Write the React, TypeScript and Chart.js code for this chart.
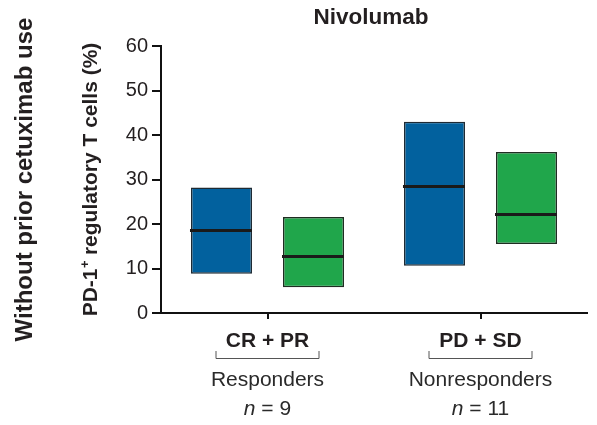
import React, { useEffect, useRef } from 'react';
import { Chart, registerables } from 'chart.js';

Chart.register(...registerables);

// ---- Data ----
const categories = ['CR + PR', 'PD + SD'];
const groupNames = ['Responders', 'Nonresponders'];
const groupN = ['9', '11'];
const yMin = 0;
const yMax = 60;
const yStep = 10;

// blue boxes (first series)
const blueLow = [8.8, 10.6];
const blueHigh = [28.2, 43.0];
const blueMedian = [18.6, 28.5];
// green boxes (second series)
const greenLow = [5.8, 15.5];
const greenHigh = [21.6, 36.2];
const greenMedian = [12.7, 22.2];

const chartTitle = 'Nivolumab';
const yTitleMain = 'PD-1';
const yTitleSup = '+';
const yTitleRest = ' regulatory T cells (%)';
const outerTitle = 'Without prior cetuximab use';

const BLUE = '#02619e';
const GREEN = '#20a64b';
const FONT = '"Liberation Sans", Arial, Helvetica, sans-serif';
const TEXT = '#231f20';

const medians = [blueMedian, greenMedian];

const overlayPlugin = {
  id: 'overlay',
  afterDatasetsDraw(chart: any) {
    const ctx = chart.ctx;
    const y = chart.scales.y;
    ctx.save();
    ctx.strokeStyle = '#1a1a1a';
    ctx.lineWidth = 3;
    medians.forEach((arr, di) => {
      const meta = chart.getDatasetMeta(di);
      meta.data.forEach((bar: any, i: number) => {
        const py = Math.round(y.getPixelForValue(arr[i])) + 0.5;
        ctx.beginPath();
        ctx.moveTo(bar.x - bar.width / 2 - 1, py);
        ctx.lineTo(bar.x + bar.width / 2, py);
        ctx.stroke();
      });
    });
    ctx.restore();
  },
  afterDraw(chart: any) {
    const ctx = chart.ctx;
    const area = chart.chartArea;
    const x = chart.scales.x;
    const cy = (area.top + area.bottom) / 2;
    ctx.save();
    ctx.fillStyle = TEXT;

    // Title
    ctx.font = `bold 22.5px ${FONT}`;
    ctx.textAlign = 'center';
    ctx.textBaseline = 'alphabetic';
    ctx.fillText(chartTitle, (area.left + area.right) / 2 - 3, 24);

    // Y-axis title with superscript
    ctx.save();
    ctx.translate(97, cy);
    ctx.rotate(-Math.PI / 2);
    ctx.textAlign = 'left';
    ctx.font = `bold 21px ${FONT}`;
    const w1 = ctx.measureText(yTitleMain).width;
    const w3 = ctx.measureText(yTitleRest).width;
    ctx.font = `bold 13px ${FONT}`;
    const w2 = ctx.measureText(yTitleSup).width;
    const x0 = -(w1 + w2 + w3) / 2;
    ctx.font = `bold 21px ${FONT}`;
    ctx.fillText(yTitleMain, x0, 0);
    ctx.font = `bold 13px ${FONT}`;
    ctx.fillText(yTitleSup, x0 + w1 + 0.5, -8);
    ctx.font = `bold 21px ${FONT}`;
    ctx.fillText(yTitleRest, x0 + w1 + w2, 0);
    ctx.restore();

    // Outer title
    ctx.save();
    ctx.translate(32, cy);
    ctx.rotate(-Math.PI / 2);
    ctx.textAlign = 'center';
    ctx.font = `bold 24px ${FONT}`;
    ctx.fillText(outerTitle, 0, 0);
    ctx.restore();

    // X category labels
    categories.forEach((cat, i) => {
      const px = x.getPixelForValue(i);
      ctx.textAlign = 'center';
      ctx.fillStyle = TEXT;
      ctx.font = `bold 21px ${FONT}`;
      ctx.fillText(cat, px, 347);
      // bracket
      ctx.strokeStyle = '#555';
      ctx.lineWidth = 1;
      const half = 52;
      ctx.beginPath();
      ctx.moveTo(px - half + 0.5, 351);
      ctx.lineTo(px - half + 0.5, 358.5);
      ctx.lineTo(px + half - 0.5, 358.5);
      ctx.lineTo(px + half - 0.5, 351);
      ctx.stroke();
      ctx.fillStyle = '#2a2a2a';
      ctx.font = `21px ${FONT}`;
      ctx.fillText(groupNames[i], px, 386);
      // n = value, italic n
      ctx.font = `italic 21px ${FONT}`;
      const nW = ctx.measureText('n').width;
      ctx.font = `21px ${FONT}`;
      const rest = ' = ' + groupN[i];
      const rW = ctx.measureText(rest).width;
      const sx = px - (nW + rW) / 2;
      ctx.textAlign = 'left';
      ctx.font = `italic 21px ${FONT}`;
      ctx.fillText('n', sx, 415);
      ctx.font = `21px ${FONT}`;
      ctx.fillText(rest, sx + nW, 415);
    });
    ctx.restore();
  },
};

export default function App() {
  const ref = useRef<HTMLCanvasElement | null>(null);
  useEffect(() => {
    if (!ref.current) return;
    const chart = new Chart(ref.current, {
      type: 'bar',
      data: {
        labels: categories,
        datasets: [
          {
            label: 'Blue',
            data: blueLow.map((lo, i) => [lo, blueHigh[i]]) as any,
            backgroundColor: BLUE,
            borderColor: '#1e2a33',
            borderWidth: 1.5,
            borderSkipped: false,
            categoryPercentage: 0.864,
            barPercentage: 0.663,
          },
          {
            label: 'Green',
            data: greenLow.map((lo, i) => [lo, greenHigh[i]]) as any,
            backgroundColor: GREEN,
            borderColor: '#1f2d22',
            borderWidth: 1.5,
            borderSkipped: false,
            categoryPercentage: 0.864,
            barPercentage: 0.663,
          },
        ],
      },
      options: {
        animation: false,
        responsive: false,
        maintainAspectRatio: false,
        layout: { padding: { top: 46, right: 10, left: 0, bottom: 0 } },
        plugins: {
          legend: { display: false },
          tooltip: { enabled: false },
          title: { display: false },
        },
        scales: {
          x: {
            type: 'category',
            offset: true,
            grid: {
              offset: false,
              drawOnChartArea: false,
              drawTicks: true,
              tickLength: 6,
              color: '#111',
              lineWidth: 2,
            },
            border: { display: true, color: '#111', width: 2 },
            ticks: { display: false },
            afterFit(scale: any) {
              scale.height = 112;
            },
          },
          y: {
            min: yMin,
            max: yMax,
            grid: {
              drawOnChartArea: false,
              drawTicks: true,
              tickLength: 9,
              color: '#111',
              lineWidth: 2,
            },
            border: { display: true, color: '#111', width: 2 },
            ticks: {
              stepSize: yStep,
              color: TEXT,
              padding: 4,
              font: { family: FONT, size: 20 },
            },
            afterFit(scale: any) {
              scale.width = 161;
            },
          },
        },
      },
      plugins: [overlayPlugin],
    });
    return () => chart.destroy();
  }, []);
  return (
    <div style={{ position: 'fixed', left: 0, top: 0, width: 597, height: 425, background: '#fff' }}>
      <canvas ref={ref} width={597} height={425} style={{ width: 597, height: 425, display: 'block' }} />
    </div>
  );
}
